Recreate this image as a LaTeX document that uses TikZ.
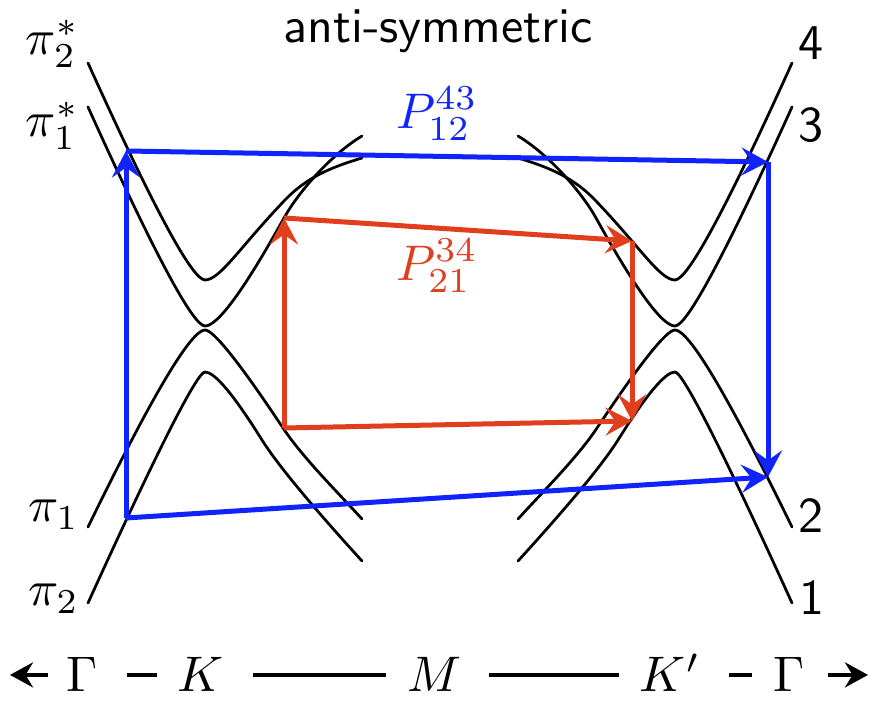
\documentclass[tikz,border=0pt]{standalone}
\usetikzlibrary{arrows.meta}
\definecolor{pblue}{RGB}{15,35,250}
\definecolor{pred}{RGB}{225,62,30}
\newcommand\halfbands{%
 \draw[band] (88,63) .. controls (153.3,207.7) and (192.3,280) .. (205,280)
   .. controls (220,280) and (240,247) .. (285,200)
   .. controls (307,177) and (332,167) .. (362,158);
 \draw[band] (88,107) .. controls (154,253) and (193,326) .. (205,326)
   .. controls (217.7,326) and (244,290) .. (284,218)
   .. controls (299,191) and (332,154) .. (362,136);
 \draw[band] (88,527) .. controls (152,395.7) and (191,330) .. (205,330)
   .. controls (213.5,330) and (239.5,362.7) .. (283,428)
   .. controls (303,458) and (337,491.5) .. (362,519);
 \draw[band] (88,603) .. controls (158,449) and (197.3,372) .. (205,372)
   .. controls (214.7,372) and (233.7,394.7) .. (262,440)
   .. controls (282,472) and (332,528) .. (362,561);
}
\begin{document}
\begin{tikzpicture}[x=0.2pt,y=-0.2pt,
  band/.style={line width=0.55pt,line cap=round},
  parrow/.style={line width=1pt,-{Stealth[length=5.3pt,width=5.6pt,inset=2pt]}},
  pline/.style={line width=1pt},
  lab/.style={inner sep=0pt},
  axlab/.style={inner sep=0pt,text height=6.83pt,text depth=0pt,anchor=base},
  axline/.style={line width=0.8pt,shorten <=5.5pt,shorten >=4pt},
  axarrow/.style={line width=0.8pt,-{Stealth[length=4.6pt,width=5pt,inset=1.5pt]}}]
\path[use as bounding box] (0,0) rectangle (880,716);
% bands
\halfbands
\begin{scope}[cm={-1,0,0,1,(880,0)}]
\halfbands
\end{scope}
% title
\node[lab,anchor=base] (title) at (438,43) {\textsf{anti-symmetric}};
% left labels
\node[lab,anchor=base east] (pi2s) at (80,55) {$\pi_2^*$};
\node[lab,anchor=base east] (pi1s) at (80,137) {$\pi_1^*$};
\node[lab,anchor=base east] (pi1) at (80,522) {$\pi_1$};
\node[lab,anchor=base east] (pi2) at (80,606) {$\pi_2$};
% right labels
\node[lab,anchor=base west] (n4) at (797,60) {\textsf{4}};
\node[lab,anchor=base west] (n3) at (797,142) {\textsf{3}};
\node[lab,anchor=base west] (n2) at (797,533) {\textsf{2}};
\node[lab,anchor=base west] (n1) at (798,615) {\textsf{1}};
% blue path
\coordinate (bBL) at (126,518);
\coordinate (bTL) at (126,151);
\coordinate (bTR) at (768,162);
\coordinate (bBR) at (768,477);
\draw[parrow,pblue] (bBL) -- (bTL);
\draw[parrow,pblue] (bTL) -- (bTR);
\draw[parrow,pblue] (bTR) -- (bBR);
\draw[parrow,pblue] (bBL) -- (bBR);
% red path
\coordinate (rBL) at (284,428);
\coordinate (rTL) at (284,218);
\coordinate (rTR) at (632,241);
\coordinate (rBR) at (632,421);
\draw[parrow,pred] (rBL) -- (rTL);
\draw[parrow,pred] (rTL) -- (rTR);
\draw[parrow,pred] (rTR) -- (rBR);
\draw[parrow,pred] (rBL) -- (rBR);
% P labels
\node[lab,text=pblue] (P43) at (437,114) {$P^{43}_{12}$};
\node[lab,text=pred] (P34) at (437,266) {$P^{34}_{21}$};
% axis
\node[axlab] (G1) at (82.5,692) {$\Gamma$};
\node[axlab] (K) at (201,692) {$K$};
\node[axlab] (M) at (434,692) {$M$};
\node[axlab] (Kp) at (670,692) {$K'$};
\node[axlab] (G2) at (789,692) {$\Gamma$};
\coordinate (lt) at (10,675);
\coordinate (rt) at (868,675);
\draw[axline] (G1.east) -- (K.west);
\draw[axline] (K.east) -- (M.west);
\draw[axline] (M.east) -- (Kp.west);
\draw[axline] (Kp.east) -- (G2.west);
\draw[axarrow,shorten <=3.5pt] (G1.west) -- (G1.west -| lt);
\draw[axarrow,shorten <=4.4pt] (G2.east) -- (G2.east -| rt);
\end{tikzpicture}
\end{document}
